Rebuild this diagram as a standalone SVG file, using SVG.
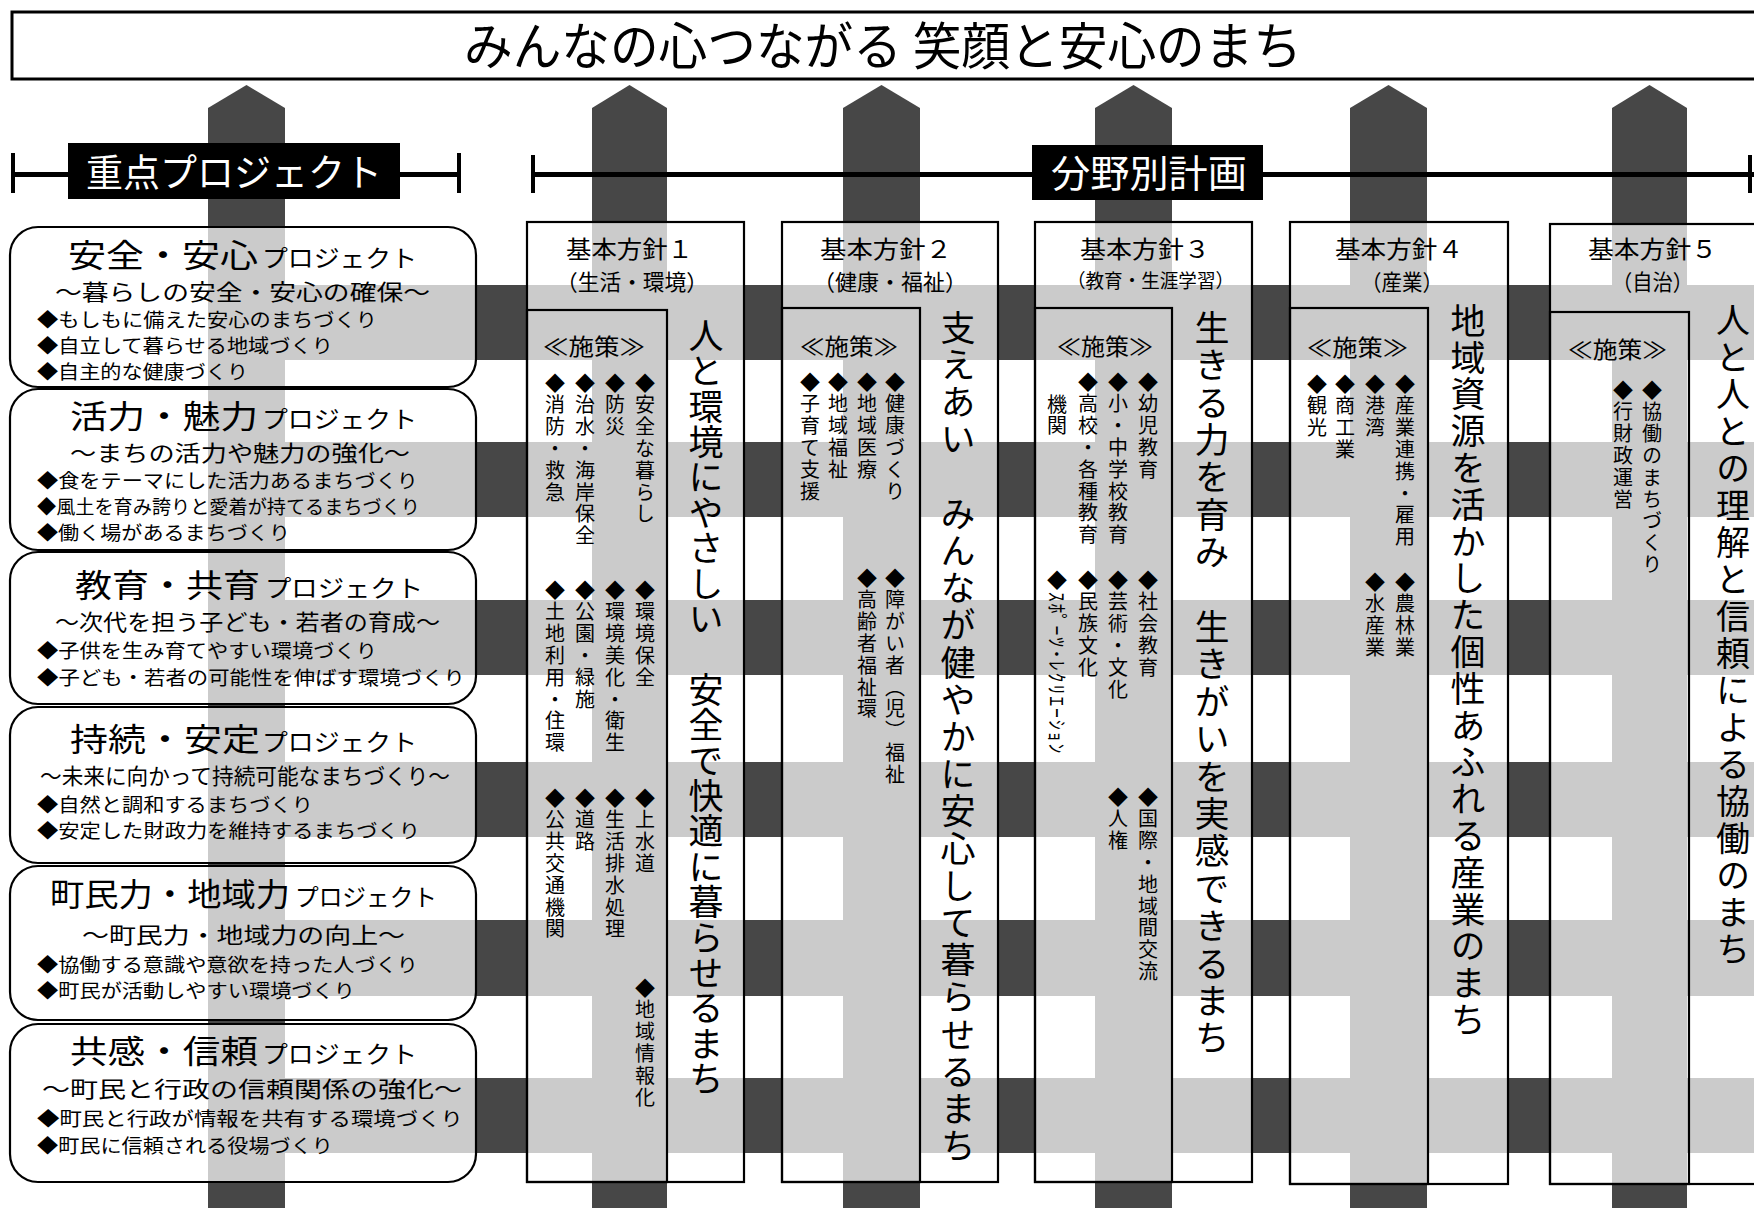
<svg xmlns="http://www.w3.org/2000/svg" width="1754" height="1208" viewBox="0 0 1754 1208">
<defs>
<style>
.dark{fill:#474747}
.pbox{fill:#fff;fill-opacity:0.72;stroke:#000;stroke-width:2.2}
.inner{fill:none;stroke:#000;stroke-width:2.2}
.blk{fill:#000}
.t{font-family:"Noto Sans CJK JP","Noto Sans CJK SC",sans-serif;fill:#000}
.w{fill:#fff}
.vt{writing-mode:vertical-rl;font-family:"Noto Sans CJK JP","Noto Sans CJK SC",sans-serif;fill:#000}
.it{font-size:20px;letter-spacing:1.8px}
.big{font-size:35px}
.pt{font-size:32px}
.pj{font-size:24px}
.ps{font-size:22px}
.pi{font-size:19px}
.hd{font-size:24px}
.hs{font-size:22px}
.ss{font-size:23px}
</style>
</defs>
<rect width="1754" height="1208" fill="#fff"/>

<g id="weave">
<polygon class="dark" points="208,108 246.5,85 285,108 285,1208 208,1208"/>
<polygon class="dark" points="592,108 629.5,85 667,108 667,1208 592,1208"/>
<polygon class="dark" points="843,108 881.5,85 920,108 920,1208 843,1208"/>
<polygon class="dark" points="1095,108 1133.5,85 1172,108 1172,1208 1095,1208"/>
<polygon class="dark" points="1350,108 1388.5,85 1427,108 1427,1208 1350,1208"/>
<polygon class="dark" points="1612,108 1649.5,85 1687,108 1687,1208 1612,1208"/>
<rect class="dark" x="208" y="285" width="1546" height="75"/>
<rect class="dark" x="208" y="442" width="1546" height="75"/>
<rect class="dark" x="208" y="600" width="1546" height="75"/>
<rect class="dark" x="208" y="762" width="1546" height="75"/>
<rect class="dark" x="208" y="920" width="1546" height="76"/>
<rect class="dark" x="208" y="1078" width="1546" height="75"/>
</g>

<g id="title">
<rect x="12" y="12" width="1760" height="67" fill="#fff" stroke="#000" stroke-width="3"/>
<text class="t" x="464" y="65" font-size="51" textLength="838" lengthAdjust="spacingAndGlyphs">みんなの心つながる 笑顔と安心のまち</text>
</g>

<g id="connectors">
<rect class="blk" x="11" y="172" width="450" height="5"/>
<rect class="blk" x="11" y="153" width="4" height="40"/>
<rect class="blk" x="457" y="153" width="4" height="40"/>
<rect class="blk" x="531" y="172" width="1223" height="5"/>
<rect class="blk" x="531" y="155" width="4" height="38"/>
<rect class="blk" x="1748" y="155" width="4" height="38"/>
</g>

<g id="header-priority">
<rect class="blk" x="68" y="143" width="332" height="56"/>
<text class="t w" x="86" y="186" font-size="38" textLength="296" lengthAdjust="spacingAndGlyphs">重点プロジェクト</text>
</g>
<g id="header-sector">
<rect class="blk" x="1032" y="145" width="231" height="55"/>
<text class="t w" x="1051" y="187" font-size="38" textLength="196" lengthAdjust="spacingAndGlyphs">分野別計画</text>
</g>

<g id="project-1">
<rect class="pbox" x="10" y="227" width="466" height="160" rx="28"/>
<text class="t pt" x="68" y="267" textLength="190" lengthAdjust="spacingAndGlyphs">安全・安心</text>
<text class="t pj" x="262" y="267" textLength="155" lengthAdjust="spacingAndGlyphs">プロジェクト</text>
<text class="t ps" x="55" y="300" textLength="375" lengthAdjust="spacingAndGlyphs">〜暮らしの安全・安心の確保〜</text>
<text class="t pi" x="37" y="327" textLength="340" lengthAdjust="spacingAndGlyphs">◆もしもに備えた安心のまちづくり</text>
<text class="t pi" x="37" y="353" textLength="296" lengthAdjust="spacingAndGlyphs">◆自立して暮らせる地域づくり</text>
<text class="t pi" x="37" y="379" textLength="211" lengthAdjust="spacingAndGlyphs">◆自主的な健康づくり</text>
</g>

<g id="project-2">
<rect class="pbox" x="10" y="389" width="466" height="161" rx="28"/>
<text class="t pt" x="70" y="428" textLength="188" lengthAdjust="spacingAndGlyphs">活力・魅力</text>
<text class="t pj" x="262" y="428" textLength="155" lengthAdjust="spacingAndGlyphs">プロジェクト</text>
<text class="t ps" x="70" y="461" textLength="340" lengthAdjust="spacingAndGlyphs">〜まちの活力や魅力の強化〜</text>
<text class="t pi" x="37" y="488" textLength="381" lengthAdjust="spacingAndGlyphs">◆食をテーマにした活力あるまちづくり</text>
<text class="t pi" x="37" y="514" textLength="383" lengthAdjust="spacingAndGlyphs">◆風土を育み誇りと愛着が持てるまちづくり</text>
<text class="t pi" x="37" y="540" textLength="253" lengthAdjust="spacingAndGlyphs">◆働く場があるまちづくり</text>
</g>

<g id="project-3">
<rect class="pbox" x="10" y="552" width="466" height="152" rx="28"/>
<text class="t pt" x="75" y="597" textLength="185" lengthAdjust="spacingAndGlyphs">教育・共育</text>
<text class="t pj" x="265" y="597" textLength="158" lengthAdjust="spacingAndGlyphs">プロジェクト</text>
<text class="t ps" x="55" y="630" textLength="385" lengthAdjust="spacingAndGlyphs">〜次代を担う子ども・若者の育成〜</text>
<text class="t pi" x="37" y="658" textLength="340" lengthAdjust="spacingAndGlyphs">◆子供を生み育てやすい環境づくり</text>
<text class="t pi" x="37" y="685" textLength="428" lengthAdjust="spacingAndGlyphs">◆子ども・若者の可能性を伸ばす環境づくり</text>
</g>

<g id="project-4">
<rect class="pbox" x="10" y="707" width="466" height="156" rx="28"/>
<text class="t pt" x="70" y="751" textLength="190" lengthAdjust="spacingAndGlyphs">持続・安定</text>
<text class="t pj" x="262" y="751" textLength="155" lengthAdjust="spacingAndGlyphs">プロジェクト</text>
<text class="t ps" x="40" y="784" textLength="410" lengthAdjust="spacingAndGlyphs">〜未来に向かって持続可能なまちづくり〜</text>
<text class="t pi" x="37" y="812" textLength="276" lengthAdjust="spacingAndGlyphs">◆自然と調和するまちづくり</text>
<text class="t pi" x="37" y="838" textLength="383" lengthAdjust="spacingAndGlyphs">◆安定した財政力を維持するまちづくり</text>
</g>

<g id="project-5">
<rect class="pbox" x="10" y="866" width="466" height="154" rx="28"/>
<text class="t pt" x="50" y="906" textLength="240" lengthAdjust="spacingAndGlyphs">町民力・地域力</text>
<text class="t pj" x="295" y="906" textLength="142" lengthAdjust="spacingAndGlyphs">プロジェクト</text>
<text class="t ps" x="82" y="943" textLength="323" lengthAdjust="spacingAndGlyphs">〜町民力・地域力の向上〜</text>
<text class="t pi" x="37" y="972" textLength="381" lengthAdjust="spacingAndGlyphs">◆協働する意識や意欲を持った人づくり</text>
<text class="t pi" x="37" y="998" textLength="318" lengthAdjust="spacingAndGlyphs">◆町民が活動しやすい環境づくり</text>
</g>

<g id="project-6">
<rect class="pbox" x="10" y="1024" width="466" height="158" rx="28"/>
<text class="t pt" x="70" y="1063" textLength="188" lengthAdjust="spacingAndGlyphs">共感・信頼</text>
<text class="t pj" x="262" y="1063" textLength="155" lengthAdjust="spacingAndGlyphs">プロジェクト</text>
<text class="t ps" x="42" y="1097" textLength="420" lengthAdjust="spacingAndGlyphs">〜町民と行政の信頼関係の強化〜</text>
<text class="t pi" x="37" y="1126" textLength="426" lengthAdjust="spacingAndGlyphs">◆町民と行政が情報を共有する環境づくり</text>
<text class="t pi" x="37" y="1153" textLength="296" lengthAdjust="spacingAndGlyphs">◆町民に信頼される役場づくり</text>
</g>

<g id="policy-1">
<rect class="pbox" x="527" y="222" width="217" height="960"/>
<rect class="inner" x="527" y="310" width="140" height="872"/>
<text class="t hd" x="566" y="258" textLength="127" lengthAdjust="spacingAndGlyphs">基本方針１</text>
<text class="t hs" x="556" y="290" textLength="152" lengthAdjust="spacingAndGlyphs">（生活・環境）</text>
<text class="t ss" x="543" y="355" textLength="102" lengthAdjust="spacingAndGlyphs">≪施策≫</text>
<text class="vt it" x="645" y="373">◆安全な暮らし</text>
<text class="vt it" x="615" y="373">◆防災</text>
<text class="vt it" x="585" y="373">◆治水・海岸保全</text>
<text class="vt it" x="555" y="373">◆消防・救急</text>
<text class="vt it" x="645" y="580">◆環境保全</text>
<text class="vt it" x="615" y="580">◆環境美化・衛生</text>
<text class="vt it" x="585" y="580">◆公園・緑施</text>
<text class="vt it" x="555" y="580">◆土地利用・住環</text>
<text class="vt it" x="645" y="788">◆上水道</text>
<text class="vt it" x="615" y="788">◆生活排水処理</text>
<text class="vt it" x="585" y="788">◆道路</text>
<text class="vt it" x="555" y="788">◆公共交通機関</text>
<text class="vt it" x="645" y="978">◆地域情報化</text>
<text class="vt big" x="706" y="318" style="letter-spacing:0.4px">人と環境にやさしい　安全で快適に暮らせるまち</text>
</g>

<g id="policy-2">
<rect class="pbox" x="782" y="222" width="216" height="960"/>
<rect class="inner" x="782" y="308" width="138" height="874"/>
<text class="t hd" x="820" y="258" textLength="132" lengthAdjust="spacingAndGlyphs">基本方針２</text>
<text class="t hs" x="813" y="290" textLength="154" lengthAdjust="spacingAndGlyphs">（健康・福祉）</text>
<text class="t ss" x="800" y="355" textLength="98" lengthAdjust="spacingAndGlyphs">≪施策≫</text>
<text class="vt it" x="895" y="372">◆健康づくり</text>
<text class="vt it" x="867" y="372">◆地域医療</text>
<text class="vt it" x="838" y="372">◆地域福祉</text>
<text class="vt it" x="810" y="372">◆子育て支援</text>
<text class="vt it" x="895" y="568">◆障がい者（児）福祉</text>
<text class="vt it" x="867" y="568">◆高齢者福祉環</text>
<text class="vt big" x="958" y="310" style="letter-spacing:2.2px">支えあい　みんなが健やかに安心して暮らせるまち</text>
</g>

<g id="policy-3">
<rect class="pbox" x="1035" y="222" width="217" height="960"/>
<rect class="inner" x="1035" y="308" width="137" height="874"/>
<text class="t hd" x="1080" y="258" textLength="130" lengthAdjust="spacingAndGlyphs">基本方針３</text>
<text class="t" x="1067" y="288" font-size="19" textLength="167" lengthAdjust="spacingAndGlyphs">（教育・生涯学習）</text>
<text class="t ss" x="1057" y="355" textLength="96" lengthAdjust="spacingAndGlyphs">≪施策≫</text>
<text class="vt it" x="1148" y="372">◆幼児教育</text>
<text class="vt it" x="1118" y="372">◆小・中学校教育</text>
<text class="vt it" x="1088" y="372">◆高校・各種教育</text>
<text class="vt it" x="1057" y="394">機関</text>
<text class="vt it" x="1148" y="570">◆社会教育</text>
<text class="vt it" x="1118" y="570">◆芸術・文化</text>
<text class="vt it" x="1088" y="570">◆民族文化</text>
<text class="vt it" x="1057" y="570">◆ｽﾎﾟｰﾂ･ﾚｸﾘｴｰｼｮﾝ</text>
<text class="vt it" x="1148" y="787">◆国際・地域間交流</text>
<text class="vt it" x="1118" y="787">◆人権</text>
<text class="vt big" x="1212" y="310" style="letter-spacing:2.4px">生きる力を育み　生きがいを実感できるまち</text>
</g>

<g id="policy-4">
<rect class="pbox" x="1290" y="222" width="218" height="962"/>
<rect class="inner" x="1290" y="308" width="138" height="876"/>
<text class="t hd" x="1335" y="258" textLength="128" lengthAdjust="spacingAndGlyphs">基本方針４</text>
<text class="t hs" x="1361" y="290" textLength="82" lengthAdjust="spacingAndGlyphs">（産業）</text>
<text class="t ss" x="1307" y="356" textLength="101" lengthAdjust="spacingAndGlyphs">≪施策≫</text>
<text class="vt it" x="1405" y="374">◆産業連携・雇用</text>
<text class="vt it" x="1375" y="374">◆港湾</text>
<text class="vt it" x="1345" y="374">◆商工業</text>
<text class="vt it" x="1317" y="374">◆観光</text>
<text class="vt it" x="1405" y="572">◆農林業</text>
<text class="vt it" x="1375" y="572">◆水産業</text>
<text class="vt big" x="1468" y="303" style="letter-spacing:1.8px">地域資源を活かした個性あふれる産業のまち</text>
</g>

<g id="policy-5">
<rect class="pbox" x="1550" y="224" width="230" height="960"/>
<rect class="inner" x="1550" y="312" width="139" height="872"/>
<text class="t hd" x="1588" y="258" textLength="129" lengthAdjust="spacingAndGlyphs">基本方針５</text>
<text class="t hs" x="1612" y="290" textLength="81" lengthAdjust="spacingAndGlyphs">（自治）</text>
<text class="t ss" x="1568" y="358" textLength="99" lengthAdjust="spacingAndGlyphs">≪施策≫</text>
<text class="vt it" x="1652" y="380">◆協働のまちづくり</text>
<text class="vt it" x="1623" y="380">◆行財政運営</text>
<text class="vt big" x="1733" y="303" style="font-size:34px;letter-spacing:3px">人と人との理解と信頼による協働のまち</text>
</g>
</svg>
